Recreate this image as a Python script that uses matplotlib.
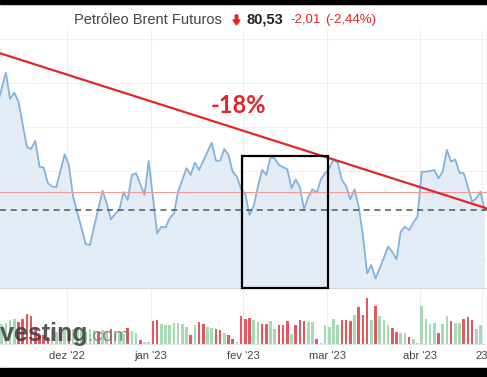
import matplotlib
matplotlib.use("Agg")
import matplotlib.pyplot as plt
from matplotlib.patches import Rectangle, FancyArrow
from matplotlib.transforms import IdentityTransform

W, H = 487, 377

# preço (Brent), índice de pregão -> cotação
price_idx = [-1, 1, 2, 3, 4, 6, 7, 8, 9, 10, 11, 12, 13, 15, 16, 17, 19, 20, 21, 22,
             24, 25, 26, 27, 28, 29, 30, 31, 32, 34, 35, 37, 38, 39, 40, 41, 42, 44, 45, 46,
             47, 50, 51, 52, 53, 54, 55, 56, 57, 58, 59, 60, 61, 62, 63, 64, 65, 66, 68, 69,
             70, 71, 72, 73, 74, 75, 76, 77, 78, 79, 80, 81, 82, 83, 84, 85, 86, 87, 88, 89,
             90, 92, 93, 94, 95, 96, 97, 98, 99, 100, 101, 102, 103, 104, 105, 106, 107, 108, 109, 110,
             111, 112, 113, 114, 115]
price_val = [92.57, 96.13, 93.14, 93.86, 92.84, 87.69, 87.46, 88.41, 85.45, 85.34, 83.60, 83.18, 83.14, 86.86, 85.64, 82.04, 78.48, 76.67, 76.55, 78.63,
             82.72, 81.29, 79.47, 80.08, 80.53, 82.58, 81.67, 84.51, 84.70, 82.23, 86.10, 77.88, 78.63, 78.56, 79.59, 80.15, 82.61, 85.27, 84.51, 85.91,
             85.08, 88.18, 86.13, 86.13, 87.46, 86.78, 84.88, 84.31, 82.92, 82.35, 79.96, 80.98, 83.18, 85.08, 84.51, 86.52, 86.41, 85.64, 85.16, 83.00,
             84.02, 83.11, 80.61, 82.04, 82.88, 82.50, 84.02, 84.70, 85.27, 86.29, 85.91, 83.94, 83.26, 81.75, 82.88, 80.91, 77.69, 73.34, 74.28, 72.77,
             73.90, 76.36, 75.79, 74.93, 78.06, 78.63, 78.26, 79.09, 79.77, 84.88, 84.88, 84.96, 85.08, 84.13, 84.88, 87.35, 86.02, 86.29, 84.77, 84.70,
             83.18, 81.47, 81.86, 82.61, 80.53]

# volume (mil contratos) e direção do pregão (g = alta, r = baixa)
volume = [120, 126, 140, 150, 130, 150, 180, 166, 100, 50, 50, 40, 90, 70, 90, 100, 80, 90, 100, 90,
          70, 90, 80, 70, 80, 74, 90, 60, 70, 60, 94, 74, 66, 20, 8, 10, 136, 144, 120, 110,
          110, 124, 124, 120, 100, 50, 110, 130, 116, 100, 96, 90, 80, 64, 50, 30, 10, 164, 150, 156,
          144, 130, 120, 120, 136, 90, 110, 110, 136, 60, 110, 140, 136, 130, 130, 26, 4, 114, 100, 146,
          114, 140, 140, 134, 174, 220, 170, 274, 140, 226, 166, 140, 114, 94, 70, 66, 66, 40, 26, 6,
          226, 146, 120, 126, 66, 120, 166, 134, 126, 126, 146, 160, 140, 90, 110]
direction = ("ggggrrrrrr" "rrggggrggg" "gggrggrggg" "rggrggrrgg" "gggggrgrrg"
             "grrgrrgrrr" "ggrrggrrrg" "rrrggrgggg" "grrrgrrrgr" "gggrrggrgg"
             "ggggrggrgg" "rrrgg")

prev_close = 82.54
last = 80.53
trend_x = [-1, 116]
trend_p = [98.43, 80.64]

tick_pos = [15.5, 35.5, 57.5, 77.5, 99.6, 114.4]
tick_lab = ["dez '22", "jan '23", "fev '23", "mar '23", "abr '23", "23"]

plt.rcParams['font.family'] = ['Liberation Sans', 'DejaVu Sans']

fig = plt.figure(figsize=(W / 100, H / 100), dpi=100)
fig.patch.set_facecolor('white')


def fy(py):
    return 1 - py / H


xlim = (-0.405, 115.55)
ylim = (71.67, 100.98)

ax = fig.add_axes([0, fy(288), 1, fy(30) - fy(288)])
ax.set_xlim(xlim)
ax.set_ylim(ylim)
for g in [75, 80, 85, 90, 95, 100]:
    ax.axhline(g, color='#f1f1f1', lw=0.8, zorder=0)
for t in tick_pos:
    ax.axvline(t, color='#eeeeee', lw=0.8, zorder=0)

ax.fill_between(price_idx, price_val, ylim[0], color='#e3ecf5', lw=0, zorder=1)
ax.plot(price_idx, price_val, color='#84b2da', lw=1.3, zorder=2)
ax.axhline(prev_close, color='#f29a9a', lw=0.8, zorder=3)
ax.axhline(last, color='#555555', lw=1.1, ls=(0, (4, 3)), zorder=3)
ax.plot(trend_x, trend_p, color='#e0262b', lw=1.6, zorder=4)
ax.add_patch(Rectangle((57.2, ylim[0]), 20.4, 86.67 - ylim[0], fill=False,
                       ec='black', lw=1.6, zorder=5, clip_on=False))
ax.text(56.3, 92.35, "-18%", color='#e0262b', fontsize=17, fontweight='bold',
        family=['Lato', 'DejaVu Sans'], ha='center', va='center', zorder=6)
for s in ['top', 'left', 'right']:
    ax.spines[s].set_visible(False)
ax.spines['bottom'].set_color('#d9d9d9')
ax.set_xticks([])
ax.set_yticks([])

axv = fig.add_axes([0, fy(343.7), 1, fy(290) - fy(343.7)])
axv.set_xlim(xlim)
axv.set_ylim(0, 322)
for t in tick_pos:
    axv.axvline(t, color='#eeeeee', lw=0.8, zorder=0)
cols = ['#a6dab5' if c == 'g' else '#e2585f' for c in direction]
axv.bar(range(len(volume)), volume, width=0.65, color=cols, zorder=2)
for s in ['top', 'left', 'right']:
    axv.spines[s].set_visible(False)
axv.spines['bottom'].set_color('#e2e2e2')
axv.set_yticks([])
axv.set_xticks(tick_pos, tick_lab)
axv.tick_params(axis='x', length=0, pad=5, labelsize=8, labelcolor='#444444')

# marca d'água (logo cortado à esquerda)
wm = fig.text(-22 / W, fy(341), "Investing", fontsize=18, fontweight='bold', color='#3c3c3c',
              alpha=0.85, ha='left', va='baseline')
r = fig.canvas.get_renderer()
wm_end = wm.get_window_extent(r).x1
fig.text(wm_end / W, fy(341), ".com", fontsize=14, color='#7a7a7a', alpha=0.85,
         ha='left', va='baseline')

# cabeçalho
fig.text(74 / W, fy(20), "Petróleo Brent Futuros", fontsize=10.5, color='#444444', va='center')
fig.add_artist(FancyArrow(236.5, H - 15, 0, -10, width=2.5, head_width=7, head_length=5,
                          length_includes_head=True, color='#e02424', transform=IdentityTransform()))
fig.text(246 / W, fy(20), "80,53", fontsize=10.5, fontweight='bold', color='#222222', va='center')
fig.text(290 / W, fy(20), "-2,01", fontsize=9.5, color='#e02424', va='center')
fig.text(325 / W, fy(20), "(-2,44%)", fontsize=9.5, color='#e02424', va='center')

# bordas pretas
fig.add_artist(Rectangle((0, fy(4)), 1, 4 / H, transform=fig.transFigure, color='black'))
fig.add_artist(Rectangle((0, 0), 1, 9 / H, transform=fig.transFigure, color='black'))

fig.savefig("out.png", dpi=100)
